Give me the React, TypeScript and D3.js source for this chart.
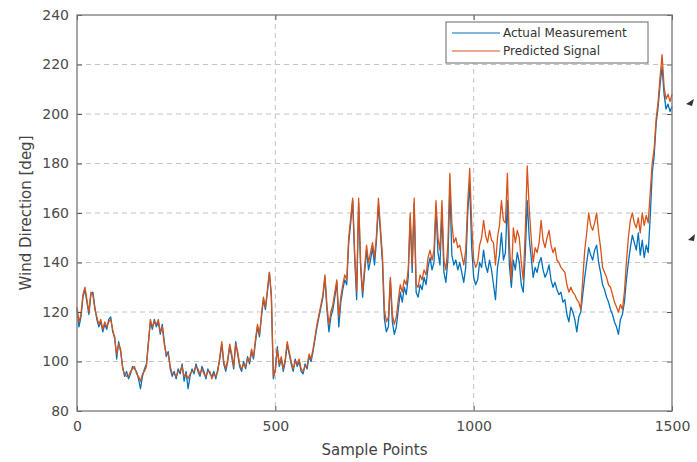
import React, { useEffect, useRef } from "react";
import * as d3 from "d3";

// one reading every 5 samples, 0..1500
const sampleStep = 5;

const actualMeasurement = [
  121, 114, 118, 126, 129, 124, 119, 127, 128, 122,
  117, 114, 116, 112, 115, 113, 117, 118, 112, 110,
  101, 108, 104, 98, 94, 96, 93, 95, 98, 97,
  96, 93, 89, 94, 97, 99, 108, 116, 113, 117,
  114, 116, 111, 115, 108, 102, 104, 97, 94, 96,
  93, 97, 95, 99, 92, 96, 89, 94, 97, 95,
  99, 96, 94, 98, 96, 93, 97, 95, 94, 96,
  93, 97, 101, 107, 99, 96, 100, 106, 102, 97,
  108, 103, 98, 96, 100, 97, 102, 99, 104, 101,
  108, 114, 110, 118, 125, 121, 128, 136, 126, 93,
  97, 106, 98, 101, 96, 100, 107, 103, 99, 96,
  101, 98, 100, 96, 95, 99, 97, 102, 100, 104,
  109, 114, 118, 122, 126, 134, 121, 112, 118, 121,
  126, 132, 114, 124, 129, 133, 131, 148, 156, 165,
  142, 125, 164, 138, 126, 136, 145, 137, 141, 146,
  139, 149, 163, 152, 140, 117, 112, 114, 133, 116,
  111, 114, 121, 128, 124, 130, 127, 134, 158, 136,
  164, 128, 126, 131, 129, 134, 131, 138, 142, 137,
  140, 162, 144, 139, 160, 136, 132, 141, 170, 143,
  139, 141, 137, 140, 136, 132, 138, 160, 172, 146,
  134, 131, 133, 140, 138, 145, 139, 136, 141, 137,
  131, 125, 138, 143, 152, 141, 144, 165, 139, 130,
  141, 137, 144, 140, 131, 128, 143, 165, 150, 142,
  134, 138, 136, 140, 142, 137, 134, 136, 139, 133,
  130, 132, 129, 127, 128, 124, 125, 119, 116, 122,
  120, 117, 112, 118, 120, 127, 134, 140, 146, 143,
  141, 145, 147, 140, 136, 131, 129, 126, 124, 121,
  119, 116, 114, 111, 117, 119, 124, 133, 140, 146,
  151, 148, 145, 152, 143, 149, 142, 147, 144, 158,
  176, 183, 196, 203, 212, 219, 208, 202, 204, 201, 203,
];

const predictedSignal = [
  122, 116, 119, 127, 130, 125, 120, 128, 127, 121,
  118, 115, 117, 113, 116, 114, 116, 117, 113, 109,
  103, 107, 105, 97, 95, 94, 94, 96, 97, 98,
  95, 94, 92, 95, 96, 98, 107, 117, 114, 116,
  115, 117, 112, 114, 107, 103, 103, 98, 95, 95,
  94, 96, 96, 98, 94, 95, 93, 95, 96, 96,
  98, 97, 95, 97, 95, 94, 96, 96, 93, 95,
  94, 96, 102, 108, 100, 97, 101, 107, 103, 98,
  107, 104, 99, 97, 99, 98, 101, 100, 105, 102,
  109, 115, 111, 119, 126, 122, 129, 136, 127, 94,
  96, 105, 99, 102, 97, 101, 108, 104, 100, 97,
  100, 99, 101, 97, 96, 98, 98, 103, 101, 105,
  110, 115, 119, 123, 127, 135, 123, 115, 120, 123,
  128, 133, 118, 126, 131, 135, 133, 150, 158, 166,
  144, 128, 166, 140, 128, 138, 147, 140, 144, 148,
  142, 151, 166, 154, 143, 121, 116, 118, 134, 119,
  115, 118, 125, 131, 128, 133, 131, 137, 160, 139,
  166, 131, 130, 135, 133, 137, 135, 142, 145, 141,
  145, 165, 150, 145, 165, 141, 137, 147, 176, 156,
  148, 150, 146, 147, 143, 139, 145, 164, 178, 156,
  141, 138, 140, 147, 150, 157, 151, 148, 153, 149,
  148, 139, 150, 155, 165, 157, 156, 176, 148, 133,
  154, 148, 153, 150, 140, 133, 152, 179, 162, 150,
  140, 146, 144, 148, 157, 149, 146, 150, 153, 147,
  144, 146, 141, 140, 138, 137, 136, 131, 128, 130,
  128, 127, 125, 124, 121, 133, 145, 152, 160, 155,
  153, 156, 160, 152, 146, 138, 136, 134, 131, 130,
  127, 124, 122, 120, 123, 121, 128, 140, 150, 157,
  160, 156, 154, 158, 152, 160, 155, 159, 156, 168,
  180, 186, 198, 205, 215, 224, 211, 206, 208, 205, 208,
];

const xTicks = [0, 500, 1000, 1500];
const yTicks = [80, 100, 120, 140, 160, 180, 200, 220, 240];

const seriesNames = ["Actual Measurement", "Predicted Signal"];
const seriesColors = ["#0072BD", "#D95319"];

const App = () => {
  const ref = useRef<SVGSVGElement>(null);

  useEffect(() => {
    const width = 697, height = 462;
    const margin = { top: 15, right: 25, bottom: 51, left: 77 };
    const w = width - margin.left - margin.right;
    const h = height - margin.top - margin.bottom;
    const font = "DejaVu Sans, Verdana, sans-serif";

    const svg = d3.select(ref.current);
    svg.selectAll("*").remove();

    const g = svg.append("g").attr("transform", `translate(${margin.left},${margin.top})`);

    const x = d3.scaleLinear().domain([0, 1500]).range([0, w]);
    const y = d3.scaleLinear().domain([80, 240]).range([h, 0]);

    // grid
    g.selectAll(".ygrid").data(yTicks.slice(1, -1)).join("line").attr("class", "ygrid")
      .attr("x1", 0).attr("x2", w).attr("y1", d => y(d)).attr("y2", d => y(d))
      .attr("stroke", "#c4c4c4").attr("stroke-dasharray", "5,4").attr("stroke-width", 1);
    g.selectAll(".xgrid").data(xTicks.slice(1, -1)).join("line").attr("class", "xgrid")
      .attr("y1", 0).attr("y2", h).attr("x1", d => x(d)).attr("x2", d => x(d))
      .attr("stroke", "#c4c4c4").attr("stroke-dasharray", "5,4").attr("stroke-width", 1);

    const line = d3.line<number>().x((d, i) => x(i * sampleStep)).y(d => y(d));

    [actualMeasurement, predictedSignal].forEach((s, k) => {
      g.append("path").datum(s).attr("d", line).attr("fill", "none")
        .attr("stroke", seriesColors[k]).attr("stroke-width", 1.3).attr("stroke-linejoin", "round");
    });

    // axes (MATLAB style: ticks inside, all four sides)
    const tickCol = "#555";
    const fmt = d3.format("d");
    const left = g.append("g").call(d3.axisLeft(y).tickValues(yTicks).tickFormat(fmt).tickSizeInner(-5).tickSizeOuter(0).tickPadding(8));
    const bottom = g.append("g").attr("transform", `translate(0,${h})`)
      .call(d3.axisBottom(x).tickValues(xTicks).tickFormat(fmt).tickSizeInner(-5).tickSizeOuter(0).tickPadding(10));
    g.append("g").attr("transform", `translate(${w},0)`)
      .call(d3.axisRight(y).tickValues(yTicks).tickSizeInner(-5).tickSizeOuter(0).tickFormat(() => ""));
    g.append("g").call(d3.axisTop(x).tickValues(xTicks).tickSizeInner(-5).tickSizeOuter(0).tickFormat(() => ""));
    g.selectAll(".domain").remove();
    g.selectAll(".tick line").attr("stroke", tickCol);
    [left, bottom].forEach(a => a.selectAll("text").attr("fill", "#4a4a4a").style("font-family", font).style("font-size", "14px"));

    g.append("rect").attr("width", w).attr("height", h).attr("fill", "none")
      .attr("stroke", "#777").attr("stroke-width", 1.3);

    // axis labels
    svg.append("text").attr("x", margin.left + w / 2).attr("y", 455).attr("text-anchor", "middle")
      .attr("fill", "#444").style("font-family", font).style("font-size", "15px").text("Sample Points");
    svg.append("text").attr("transform", `translate(31,${margin.top + h / 2}) rotate(-90)`)
      .attr("text-anchor", "middle").attr("fill", "#444").style("font-family", font).style("font-size", "15px")
      .text("Wind Direction [deg]");

    // legend
    const legend = svg.append("g").attr("transform", "translate(446,22)");
    legend.append("rect").attr("width", 202).attr("height", 41).attr("fill", "#fff")
      .attr("stroke", "#666").attr("stroke-width", 1);
    legend.selectAll("line").data(seriesNames).join("line")
      .attr("x1", 6).attr("x2", 54).attr("y1", (d, i) => 11 + i * 18).attr("y2", (d, i) => 11 + i * 18)
      .attr("stroke", (d, i) => seriesColors[i]).attr("stroke-width", 1.2);
    legend.selectAll("text").data(seriesNames).join("text")
      .attr("x", 57).attr("y", (d, i) => 15 + i * 18).text(d => d)
      .attr("fill", "#333").style("font-family", font).style("font-size", "12px");

    // small dark marks at right edge of the source image
    svg.append("path").attr("d", "M686,104 L694,99 L692,106 Z").attr("fill", "#333");
    svg.append("path").attr("d", "M688,240 L695,234 L694,241 Z").attr("fill", "#333");
  }, []);

  return (
    <div style={{ position: "absolute", left: 0, top: 0 }}>
      <svg ref={ref} width={697} height={462} style={{ display: "block", background: "#fff" }} />
    </div>
  );
};

export default App;
